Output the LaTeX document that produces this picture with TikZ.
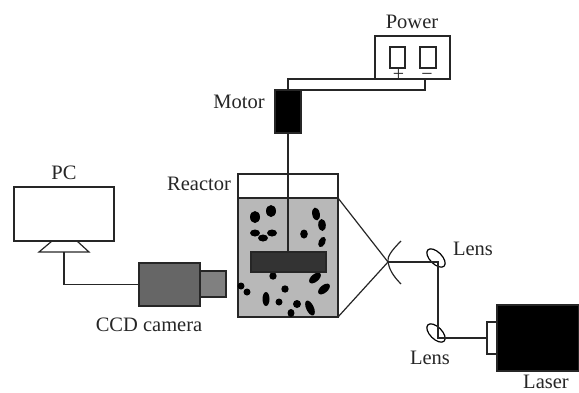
\documentclass[tikz,border=0pt]{standalone}
\usepackage{fontspec}
\setmainfont{Liberation Serif}
\usetikzlibrary{shapes.geometric}
\tikzset{
  box/.style={draw=black!85,line width=1.2pt,inner sep=0pt,outer sep=0pt,anchor=north west},
  lbl/.style={inner sep=0pt,outer sep=0pt,text=black!85,font=\fontsize{20.5}{23}\selectfont},
  sign/.style={inner sep=0pt,outer sep=0pt,anchor=base,text=black!85,font=\fontsize{20}{23}\selectfont},
  wire/.style={draw=black!85,line width=1.2pt},
  blob/.style={fill=black},
  lensshape/.style={draw=black,line width=1.2pt,ellipse,minimum width=23pt,minimum height=12pt,inner sep=0pt,outer sep=0pt,rotate=-45,fill=none}
}
\begin{document}
\begin{tikzpicture}[x=1pt,y=-1pt]
\useasboundingbox (0,0) rectangle (579,392);
% Reactor
\node[box,fill=white,minimum width=100pt,minimum height=24pt] (head) at (238,174) {};
\node[box,fill=black!28,line width=1.4pt,minimum width=100pt,minimum height=119pt] (tank) at (238,198) {};
\foreach \x/\y/\a/\b/\r in {255/217/5/6/0,271/211/5/6/0,255/233/5/3.5/0,263/238/5/3.5/0,272/233/5/3.5/0,
 316/214/3.8/6.5/10,322/225/3.8/6/5,304/234/3.8/4.5/0,322/242/3.3/5.5/-25,
 273/276/3.7/3.7/0,315/278/7/3.8/40,324/289/7/3.8/40,241/286/3.5/3.5/0,247/292/3.5/3.5/0,
 285/289/3.7/3.7/0,266/299/3.5/7/0,279/302/3.5/3.5/0,297/304/4/4/0,291/313/3.5/4/0,310/308/3.8/8/25}
 {\fill[blob] (\x,\y) circle [x radius=\a pt,y radius=\b pt,rotate=\r];}
\node[box,fill=black!80,minimum width=75pt,minimum height=20pt] (paddle) at (251,252) {};
% Motor and power
\node[box,fill=black,minimum width=26pt,minimum height=43pt] (motor) at (275,90) {};
\node[box,fill=white,minimum width=75pt,minimum height=43pt] (power) at (375,36) {};
\node[box,minimum width=15pt,minimum height=21pt] (slotA) at (390,47) {};
\node[box,minimum width=16pt,minimum height=21pt] (slotB) at (420,47) {};
\node[sign] (plus) at (398.5,80) {+};
\node[sign] (minus) at (427,80) {−};
\coordinate (plusEnd) at (398.5,79);
\coordinate (minusEnd) at (425,79);
\coordinate (motorTop) at (288,90);
\coordinate (motorRight) at (301,90);
\draw[wire] (motorTop) |- (plusEnd);
\draw[wire] (minusEnd) |- (motorRight);
\draw[wire] (motor.south) -- (paddle.north -| motor.south);
% PC
\node[box,fill=white,minimum width=100pt,minimum height=54pt] (pc) at (14,187) {};
\coordinate (standBottom) at (64,252);
\draw[wire] (52,241) -- (39,252) -- (89,252) -- (77,241);
% Camera
\node[box,fill=black!60,minimum width=61pt,minimum height=43pt] (cam) at (139,263) {};
\node[box,fill=black!50,minimum width=26pt,minimum height=26pt] (camlens) at (200,271) {};
\draw[wire] (standBottom) |- (cam.west);
% Optics
\coordinate (focus) at (388,262);
\coordinate (arcTop) at (401,241);
\coordinate (arcBottom) at (401,284);
\draw[wire] (tank.north east) -- (focus) -- (tank.south east);
\draw[wire] (arcTop) .. controls (391,251) and (387,257) .. (focus) .. controls (389,268) and (392,275) .. (arcBottom);
\node[lensshape] (lensA) at (436,258) {};
\node[lensshape] (lensB) at (436,333) {};
\coordinate (turnA) at (438,262);
\coordinate (turnB) at (438,338);
\node[box,fill=black,minimum width=82pt,minimum height=66pt] (laser) at (497,305) {};
\node[box,fill=white,minimum width=10pt,minimum height=32pt] (laserhead) at (487,322) {};
\draw[wire] (focus) -- (turnA) -- (turnB) -- (laserhead.west |- turnB);
% Labels
\node[lbl] (tPower) at (412,22) {Power};
\node[lbl] (tMotor) at (239,102) {Motor};
\node[lbl] (tReactor) at (199,184) {Reactor};
\node[lbl] (tPC) at (64,173) {PC};
\node[lbl] (tCCD) at (149,325) {CCD camera};
\node[lbl] (tLensA) at (473,249) {Lens};
\node[lbl] (tLensB) at (430,358) {Lens};
\node[lbl] (tLaser) at (546,382) {Laser};
\end{tikzpicture}
\end{document}
